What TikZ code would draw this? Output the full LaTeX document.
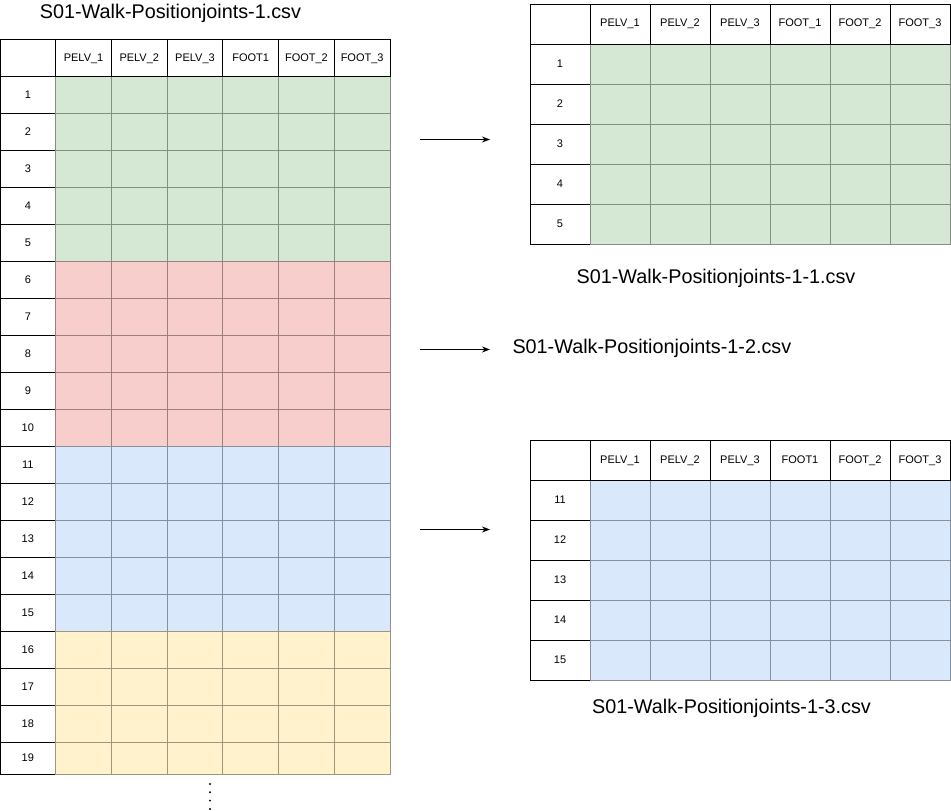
\documentclass[tikz,border=0pt]{standalone}
\usepackage{fontspec}
\setmainfont{Liberation Sans}
\usetikzlibrary{arrows.meta}
\definecolor{cgreen}{HTML}{D5E8D4}
\definecolor{cred}{HTML}{F8CECC}
\definecolor{cblue}{HTML}{DAE8FC}
\definecolor{cyellow}{HTML}{FFF2CC}
\newcommand\lcw{55.714}
\newcommand\leftrow[3]{%
  \pgfmathsetmacro\yy{76.5+(#1-1)*37}
  \node[cell,draw=black,minimum width=\lcw pt,minimum height=#3pt] (L-r#1) at (0,\yy) {#1};
  \foreach \j in {1,...,6}{%
    \node[datacell=#2,minimum width=\lcw pt,minimum height=#3pt] (L-#1-\j) at ({\j*\lcw},\yy) {};
  }%
}
\newcommand\rightrow[5]{% prefix, label, index, y0, color
  \pgfmathsetmacro\yy{#4+40+(#3-1)*40}
  \node[cell,draw=black,minimum width=60pt,minimum height=40pt] (#1-r#3) at (530,\yy) {#2};
  \foreach \j in {1,...,6}{%
    \node[datacell=#5,minimum width=60pt,minimum height=40pt] (#1-#3-\j) at ({530+\j*60},\yy) {};
  }%
}
\begin{document}
\begin{tikzpicture}[x=1pt,y=-1pt,line width=1pt,
  cell/.style={rectangle,inner sep=0pt,outer sep=0pt,anchor=north west,
    text height=8pt,text depth=2pt,
    font=\fontsize{11}{13}\selectfont},
  datacell/.style={cell,fill=#1,draw=#1!62!black},
  hcell/.style={cell,draw=black,fill=white},
  caption/.style={font=\fontsize{19.8}{23}\selectfont,inner sep=0pt},
  conn/.style={line width=1pt,-{Stealth[length=8pt,width=6pt]}},
  dot/.style={circle,fill=black,inner sep=0pt,minimum size=2.2pt}]
\useasboundingbox (0,0) rectangle (951,811);

% ---------- left table ----------
\foreach \r in {1,...,5}{\leftrow{\r}{cgreen}{37}}
\foreach \r in {6,...,10}{\leftrow{\r}{cred}{37}}
\foreach \r in {11,...,15}{\leftrow{\r}{cblue}{37}}
\foreach \r in {16,...,18}{\leftrow{\r}{cyellow}{37}}
\leftrow{19}{cyellow}{32}
\node[hcell,minimum width=\lcw pt,minimum height=37pt] (L-h0) at (0,39.5) {};
\foreach \t [count=\i] in {PELV\_1,PELV\_2,PELV\_3,FOOT1,FOOT\_2,FOOT\_3}{
  \node[hcell,minimum width=\lcw pt,minimum height=37pt] (L-h\i) at ({\i*\lcw},39.5) {\t};
}
\node[caption] (title) at (170.5,13.5) {S01-Walk-Positionjoints-1.csv};

% ---------- dots ----------
\node[dot] (d1) at (210,784) {};
\node[dot] (d2) at (210,792.3) {};
\node[dot] (d3) at (210,800.6) {};
\node[dot] (d4) at (210,809) {};

% ---------- right top table ----------
\foreach \r in {1,...,5}{\rightrow{A}{\r}{\r}{4}{cgreen}}
\node[hcell,minimum width=60pt,minimum height=40pt] (A-h0) at (530,4) {};
\foreach \t [count=\i] in {PELV\_1,PELV\_2,PELV\_3,FOOT\_1,FOOT\_2,FOOT\_3}{
  \node[hcell,minimum width=60pt,minimum height=40pt] (A-h\i) at ({530+\i*60},4) {\t};
}
\node[caption] (capA) at (716,278.5) {S01-Walk-Positionjoints-1-1.csv};

% ---------- middle label ----------
\node[caption,anchor=west] (capB) at (512,348.5) {S01-Walk-Positionjoints-1-2.csv};

% ---------- right bottom table ----------
\foreach \r [evaluate=\r as \lab using int(\r+10)] in {1,...,5}{\rightrow{C}{\lab}{\r}{440}{cblue}}
\node[hcell,minimum width=60pt,minimum height=40pt] (C-h0) at (530,440) {};
\foreach \t [count=\i] in {PELV\_1,PELV\_2,PELV\_3,FOOT1,FOOT\_2,FOOT\_3}{
  \node[hcell,minimum width=60pt,minimum height=40pt] (C-h\i) at ({530+\i*60},440) {\t};
}
\node[caption] (capC) at (731.5,708) {S01-Walk-Positionjoints-1-3.csv};

% ---------- arrows ----------
\coordinate (a1s) at (420,139.5);
\coordinate (a1e) at (490,139.5);
\coordinate (a2s) at (420,349.5);
\coordinate (a2e) at (490,349.5);
\coordinate (a3s) at (420,529.5);
\coordinate (a3e) at (490,529.5);
\draw[conn] (a1s) -- (a1e);
\draw[conn] (a2s) -- (a2e);
\draw[conn] (a3s) -- (a3e);
\end{tikzpicture}
\end{document}
